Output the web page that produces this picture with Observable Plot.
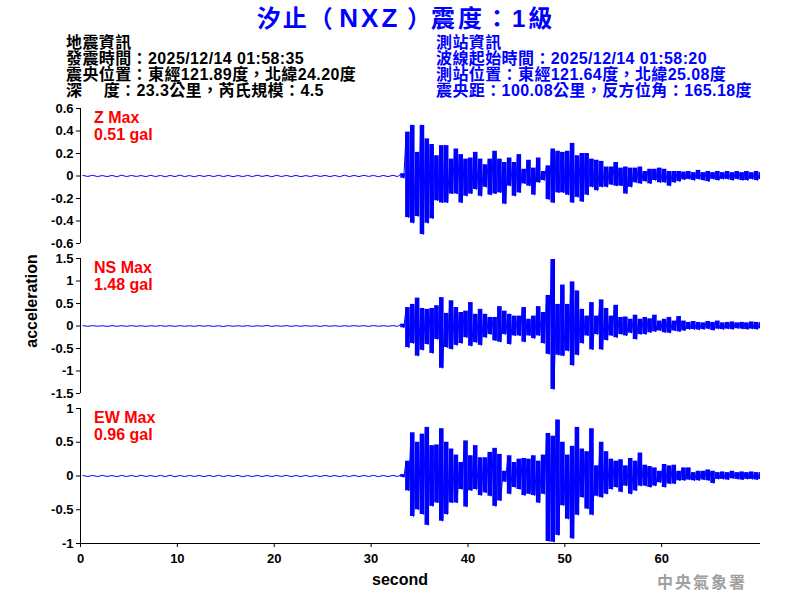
<!DOCTYPE html>
<html><head><meta charset="utf-8">
<script src="https://cdn.jsdelivr.net/npm/d3@7"></script>
<script src="https://cdn.jsdelivr.net/npm/@observablehq/plot@0.6"></script>
<style>
body{margin:0;background:#fff;}
#root{position:relative;width:800px;height:600px;overflow:hidden;background:#fff;font-family:"Liberation Sans",Arial,"Noto Sans CJK TC",sans-serif;}
.abs{position:absolute;white-space:pre;}
.title{left:0;top:4px;width:812px;text-align:center;font-size:24px;line-height:28px;font-weight:bold;color:#0000ff;}
.hdr{font-size:16px;line-height:16px;font-weight:bold;letter-spacing:0.4px;}
.red{font-size:16px;line-height:17px;font-weight:bold;color:#ff0000;left:94px;}
.lab{font-size:16px;line-height:18px;font-weight:bold;color:#000;}
.svgbox{position:absolute;left:0;}
.svgbox text{font-weight:bold;}
</style></head>
<body><div id="root"></div>
<script>
// ---------- data ----------
const xTicks = [0, 10, 20, 30, 40, 50, 60];
const zTicks = [-0.6, -0.4, -0.2, 0, 0.2, 0.4, 0.6];
const nsTicks = [-1.5, -1, -0.5, 0, 0.5, 1, 1.5];
const ewTicks = [-1, -0.5, 0, 0.5, 1];

// quiet part: 1 s bins starting at 0 s (peak max / min per bin)
const zQuietMax = [0.005,0.006,0.004,0.005,0.007,0.005,0.004,0.006,0.005,0.005,0.007,0.004,0.005,0.005,0.006,0.005,0.004,0.005,0.007,0.005,0.006,0.005,0.005,0.004,0.006,0.005,0.005,0.007,0.005,0.006,0.005,0.005,0.006];
const zQuietMin = [-0.004,-0.005,-0.005,-0.006,-0.005,-0.004,-0.005,-0.005,-0.006,-0.005,-0.005,-0.006,-0.004,-0.005,-0.005,-0.006,-0.005,-0.005,-0.004,-0.006,-0.005,-0.005,-0.006,-0.005,-0.004,-0.005,-0.006,-0.005,-0.005,-0.004,-0.006,-0.005,-0.005];
const nsQuietMax = [0.006,0.008,0.005,0.007,0.006,0.008,0.005,0.006,0.008,0.006,0.007,0.005,0.008,0.006,0.006,0.008,0.005,0.007,0.006,0.012,0.006,0.008,0.006,0.007,0.005,0.008,0.006,0.006,0.008,0.007,0.010,0.006,0.008];
const nsQuietMin = [-0.006,-0.005,-0.008,-0.006,-0.007,-0.006,-0.008,-0.005,-0.006,-0.008,-0.006,-0.007,-0.005,-0.008,-0.012,-0.006,-0.006,-0.007,-0.005,-0.008,-0.006,-0.007,-0.006,-0.005,-0.008,-0.006,-0.007,-0.006,-0.005,-0.008,-0.006,-0.006,-0.007];
const ewQuietMax = [0.007,0.009,0.010,0.007,0.009,0.008,0.011,0.007,0.009,0.010,0.008,0.009,0.007,0.008,0.010,0.008,0.009,0.007,0.009,0.008,0.008,0.010,0.007,0.009,0.008,0.009,0.007,0.008,0.010,0.008,0.009,0.007,0.009];
const ewQuietMin = [-0.008,-0.009,-0.007,-0.010,-0.008,-0.009,-0.007,-0.009,-0.008,-0.011,-0.008,-0.007,-0.009,-0.008,-0.009,-0.007,-0.010,-0.008,-0.008,-0.009,-0.007,-0.009,-0.008,-0.010,-0.008,-0.007,-0.009,-0.008,-0.009,-0.007,-0.009,-0.008,-0.008];

// active part: 0.5 s bins starting at 33.0 s (peak max / min per bin)
const zMax = [0.02,0.39,0.45,0.21,0.45,0.33,0.28,0.18,0.27,0.27,
  0.15,0.24,0.19,0.15,0.16,0.21,0.15,0.10,0.15,0.22,
  0.15,0.12,0.16,0.12,0.19,0.06,0.14,0.07,0.16,0.04,
  0.09,0.24,0.22,0.21,0.22,0.29,0.18,0.20,0.20,0.15,
  0.14,0.13,0.08,0.08,0.12,0.07,0.08,0.07,0.07,0.08,
  0.04,0.06,0.06,0.07,0.06,0.04,0.04,0.04,0.035,0.04,
  0.03,0.05,0.03,0.04,0.03,0.04,0.03,0.04,0.03,0.04,
  0.03,0.04,0.03,0.04,0.03];
const zMin = [-0.02,-0.37,-0.42,-0.36,-0.52,-0.42,-0.38,-0.22,-0.24,-0.24,
  -0.16,-0.16,-0.24,-0.18,-0.16,-0.12,-0.18,-0.10,-0.17,-0.16,
  -0.15,-0.25,-0.09,-0.18,-0.15,-0.07,-0.09,-0.17,-0.06,-0.04,
  -0.21,-0.24,-0.15,-0.15,-0.17,-0.24,-0.19,-0.23,-0.17,-0.10,
  -0.13,-0.10,-0.10,-0.08,-0.09,-0.09,-0.16,-0.10,-0.06,-0.07,
  -0.05,-0.07,-0.04,-0.06,-0.06,-0.09,-0.06,-0.05,-0.035,-0.03,
  -0.04,-0.03,-0.04,-0.05,-0.03,-0.04,-0.03,-0.03,-0.04,-0.03,
  -0.04,-0.04,-0.03,-0.04,-0.03];
const nsMax = [0.04,0.41,0.48,0.62,0.39,0.37,0.39,0.45,0.63,0.28,
  0.56,0.41,0.30,0.33,0.52,0.26,0.37,0.26,0.19,0.19,
  0.43,0.33,0.26,0.22,0.22,0.41,0.15,0.22,0.43,0.30,
  0.68,1.48,0.48,0.91,0.48,0.98,0.78,0.37,0.22,0.52,
  0.22,0.58,0.39,0.22,0.46,0.19,0.20,0.15,0.24,0.15,
  0.19,0.16,0.24,0.11,0.15,0.19,0.11,0.21,0.11,0.08,
  0.10,0.08,0.07,0.10,0.08,0.11,0.07,0.08,0.09,0.07,
  0.08,0.07,0.09,0.08,0.07];
const nsMin = [-0.04,-0.48,-0.39,-0.67,-0.54,-0.41,-0.61,-0.30,-0.94,-0.48,
  -0.52,-0.43,-0.39,-0.26,-0.45,-0.37,-0.43,-0.26,-0.19,-0.33,
  -0.36,-0.19,-0.41,-0.22,-0.22,-0.36,-0.22,-0.28,-0.22,-0.39,
  -0.63,-1.41,-0.65,-0.67,-0.56,-0.88,-0.65,-0.39,-0.22,-0.53,
  -0.19,-0.53,-0.32,-0.22,-0.26,-0.19,-0.22,-0.16,-0.30,-0.19,
  -0.19,-0.15,-0.13,-0.11,-0.15,-0.16,-0.11,-0.13,-0.11,-0.08,
  -0.08,-0.09,-0.08,-0.07,-0.10,-0.07,-0.08,-0.07,-0.08,-0.06,
  -0.07,-0.08,-0.07,-0.08,-0.06];
const ewMax = [0.02,0.22,0.64,0.50,0.62,0.72,0.45,0.46,0.70,0.50,
  0.40,0.31,0.20,0.52,0.30,0.45,0.27,0.27,0.35,0.41,
  0.32,0.07,0.30,0.20,0.25,0.26,0.25,0.30,0.22,0.31,
  0.63,0.59,0.83,0.50,0.31,0.44,0.72,0.40,0.36,0.70,
  0.15,0.50,0.36,0.25,0.22,0.24,0.15,0.26,0.22,0.34,
  0.16,0.14,0.12,0.07,0.17,0.15,0.16,0.07,0.12,0.12,
  0.05,0.07,0.07,0.09,0.07,0.05,0.06,0.05,0.07,0.05,
  0.06,0.05,0.06,0.05,0.05];
const ewMin = [-0.02,-0.22,-0.60,-0.50,-0.57,-0.73,-0.45,-0.40,-0.67,-0.57,
  -0.40,-0.40,-0.20,-0.46,-0.22,-0.20,-0.29,-0.25,-0.30,-0.45,
  -0.37,-0.09,-0.27,-0.17,-0.20,-0.29,-0.27,-0.29,-0.40,-0.27,
  -0.97,-0.98,-0.88,-0.44,-0.64,-0.93,-0.58,-0.32,-0.49,-0.58,
  -0.30,-0.32,-0.27,-0.20,-0.17,-0.24,-0.15,-0.27,-0.22,-0.15,
  -0.15,-0.17,-0.15,-0.10,-0.17,-0.12,-0.12,-0.07,-0.07,-0.06,
  -0.07,-0.07,-0.06,-0.07,-0.11,-0.05,-0.05,-0.06,-0.04,-0.05,
  -0.06,-0.05,-0.05,-0.06,-0.05];

const leftInfo = ["地震資訊", "發震時間：2025/12/14 01:58:35", "震央位置：東經121.89度，北緯24.20度", "深　 度：23.3公里，芮氏規模：4.5"];
const rightInfo = ["測站資訊", "波線起始時間：2025/12/14 01:58:20", "測站位置：東經121.64度，北緯25.08度", "震央距：100.08公里，反方位角：165.18度"];
const titleParts = [["汐止", "2px", "24px"], ["（ ", "0px", "24px"], ["NXZ", "3px", "26px"], [" ）", "0px", "24px"], ["震度：1級", "3px", "24px"]];
const maxLabels = [["Z Max", "0.51 gal"], ["NS Max", "1.48 gal"], ["EW Max", "0.96 gal"]];

// ---------- build traces ----------
const quietStart = 0, quietStep = 1, activeStart = 33, activeStep = 0.5;
function trace(qMax, qMin, aMax, aMin) {
  const pts = [], bins = [];
  const nq = Math.min(qMax.length, qMin.length);
  for (let i = 0; i < nq; i++) {
    const t = quietStart + i * quietStep;
    pts.push({t: t + quietStep * 0.25, v: qMax[i]});
    pts.push({t: t + quietStep * 0.75, v: qMin[i]});
  }
  const na = Math.min(aMax.length, aMin.length);
  for (let i = 0; i < na; i++) {
    const t = activeStart + i * activeStep;
    pts.push({t: t + activeStep * 0.25, v: aMax[i]});
    pts.push({t: t + activeStep * 0.75, v: aMin[i]});
    bins.push({t: t + activeStep * 0.5, lo: aMin[i], hi: aMax[i]});
  }
  return {pts, bins};
}

const root = document.getElementById("root");
function addDiv(cls, text, style) {
  const d = document.createElement("div");
  d.className = "abs " + cls;
  d.textContent = text;
  Object.assign(d.style, style || {});
  root.appendChild(d);
  return d;
}

const title = addDiv("title", "");
titleParts.forEach(([s, ls, fs]) => {
  const sp = document.createElement("span");
  sp.textContent = s;
  sp.style.letterSpacing = ls;
  sp.style.fontSize = fs;
  title.appendChild(sp);
});
leftInfo.forEach((s, i) => addDiv("hdr", s, {left: "66px", top: (35 + i * 16) + "px", color: "#000"}));
rightInfo.forEach((s, i) => addDiv("hdr", s, {left: "436px", top: (35 + i * 16) + "px", color: "#0000ff"}));

const xDomain = [0, 70.2];
function panel(tr, ticks, top, height, mb, showX) {
  const lo = d3.min(ticks), hi = d3.max(ticks);
  const marks = [
    Plot.ruleX([0], {y1: lo, y2: hi, stroke: "#000", strokeWidth: 1}),
    Plot.axisY({ticks, tickSize: 4, tickPadding: 3, tickFormat: d => String(d), fontSize: 13, fontWeight: "bold", label: null}),
    Plot.ruleX(tr.bins, {x: "t", y1: "lo", y2: "hi", stroke: "#0000ff", strokeWidth: 4.6, clip: true}),
    Plot.line(tr.pts, {x: "t", y: "v", stroke: "#0000ff", strokeWidth: 1, clip: true})
  ];
  if (showX) {
    marks.push(Plot.ruleY([lo], {x1: xDomain[0], x2: xDomain[1], stroke: "#000", strokeWidth: 1}));
    marks.push(Plot.axisX({ticks: xTicks, tickSize: 4, tickPadding: 6, fontSize: 13, fontWeight: "bold", label: null}));
  }
  const chart = Plot.plot({
    width: 800, height, marginLeft: 80, marginRight: 40, marginTop: 8, marginBottom: mb,
    x: {domain: xDomain, axis: null},
    y: {domain: [lo, hi], axis: null},
    style: {fontFamily: '"Liberation Sans", Arial, sans-serif', background: "transparent", overflow: "visible"},
    marks
  });
  const box = document.createElement("div");
  box.className = "svgbox";
  box.style.top = top + "px";
  box.appendChild(chart);
  root.appendChild(box);
}

panel(trace(zQuietMax, zQuietMin, zMax, zMin), zTicks, 100, 150, 7, false);
panel(trace(nsQuietMax, nsQuietMin, nsMax, nsMin), nsTicks, 250, 150, 7, false);
panel(trace(ewQuietMax, ewQuietMin, ewMax, ewMin), ewTicks, 400, 200, 57, true);

[109, 259, 409].forEach((y, i) => {
  addDiv("red", maxLabels[i][0], {top: y + "px"});
  addDiv("red", maxLabels[i][1], {top: (y + 17) + "px"});
});

addDiv("lab", "acceleration", {left: "32px", top: "301px", transform: "translate(-50%,-50%) rotate(-90deg)"});
addDiv("lab", "second", {left: "400px", top: "571px", transform: "translateX(-50%)"});
addDiv("lab", "中央氣象署", {left: "657px", top: "571px", color: "#a0a0a0", letterSpacing: "2px", fontFamily: '"Noto Sans CJK TC", sans-serif', lineHeight: "20px"});
</script>
</body></html>
